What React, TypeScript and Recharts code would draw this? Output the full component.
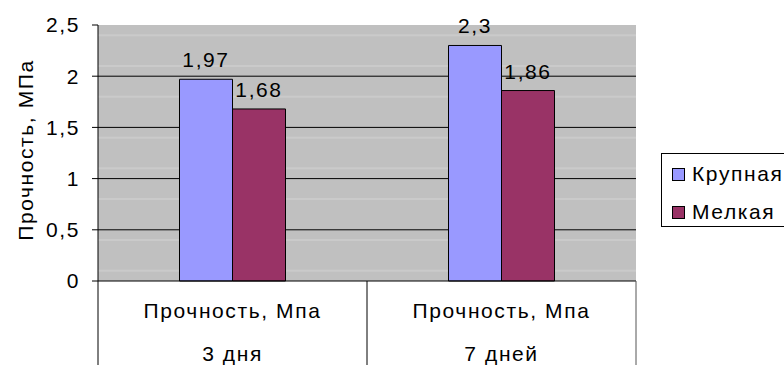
import { BarChart, Bar, XAxis, YAxis, CartesianGrid, Legend, LabelList } from "recharts";

const periods = ["3 дня", "7 дней"];
const measures = ["Прочность, Мпа", "Прочность, Мпа"];
const coarse = [1.97, 2.3];
const fine = [1.68, 1.86];
const yTicks = [0, 0.5, 1, 1.5, 2, 2.5];
const majorLines = [0.5, 1, 1.5, 2];
const minorLines = [
  0.1, 0.2, 0.3, 0.4, 0.6, 0.7, 0.8, 0.9, 1.1, 1.2, 1.3, 1.4,
  1.6, 1.7, 1.8, 1.9, 2.1, 2.2, 2.3, 2.4,
];

const data = periods.map((period, i) => ({
  period,
  measure: measures[i],
  coarse: coarse[i],
  fine: fine[i],
}));

const W = 784;
const H = 365;
const LEFT = 98;
const RIGHT = 148;
const TOP = 25;
const X_AXIS_H = 84;
const PLOT_W = W - LEFT - RIGHT;
const FONT = "'Liberation Sans', Arial, sans-serif";
const FS = 21;
const LS = 1.6;

const textStyle = { fill: "#000", fontSize: FS, fontFamily: FONT, letterSpacing: LS };

const comma = (v: number | string) => String(v).replace(".", ",");

const CategoryTick = (props: any) => {
  const { x, y, payload, index } = props;
  const half = PLOT_W / periods.length / 2;
  const last = index === periods.length - 1;
  return (
    <g>
      <line x1={x - half} y1={y} x2={x - half} y2={H} stroke="#000" />
      {last && <line x1={x + half} y1={y} x2={x + half} y2={H} stroke="#555" />}
      <text x={x} y={y + 37} textAnchor="middle" style={textStyle}>
        {measures[index]}
      </text>
      <text x={x} y={y + 80} textAnchor="middle" style={textStyle}>
        {payload.value}
      </text>
    </g>
  );
};

const LegendBox = (props: any) => {
  const { payload } = props;
  return (
    <div
      style={{
        border: "1px solid #000",
        background: "#fff",
        width: 130,
        height: 74,
        boxSizing: "border-box",
        paddingTop: 1,
        paddingLeft: 10,
        fontFamily: FONT,
        fontSize: FS,
        letterSpacing: LS,
      }}
    >
      {payload.map((item: any) => (
        <div key={item.value} style={{ display: "flex", alignItems: "center", height: 38 }}>
          <span
            style={{
              width: 11,
              height: 11,
              background: item.color,
              border: "1px solid #000",
              marginRight: 7,
              flexShrink: 0,
            }}
          />
          <span>{item.value}</span>
        </div>
      ))}
    </div>
  );
};

const YTitle = () => (
  <text
    x={0}
    y={0}
    transform={`translate(33, 150) rotate(-90)`}
    textAnchor="middle"
    style={textStyle}
  >
    Прочность, МПа
  </text>
);

export default function App() {
  return (
    <div style={{ position: "absolute", left: 0, top: 0, background: "#fff" }}>
      <BarChart
        width={W}
        height={H}
        data={data}
        margin={{ top: TOP, right: RIGHT, left: 0, bottom: 0 }}
        barCategoryGap="30.3%"
        barGap={0}
      >
        <CartesianGrid
          vertical={false}
          horizontalValues={minorLines}
          stroke="#cacaca"
          strokeWidth={2}
          fill="#c0c0c0"
          fillOpacity={1}
        />
        <CartesianGrid vertical={false} horizontalValues={majorLines} stroke="#000" />
        <XAxis
          xAxisId="top"
          orientation="top"
          dataKey="period"
          height={0}
          tick={false}
          tickLine={false}
          axisLine={{ stroke: "#808080" }}
        />
        <YAxis
          yAxisId="right"
          orientation="right"
          width={0}
          tick={false}
          tickLine={false}
          axisLine={{ stroke: "#808080" }}
        />
        <XAxis
          dataKey="period"
          height={X_AXIS_H}
          tickSize={0}
          tickMargin={0}
          tick={<CategoryTick />}
          axisLine={{ stroke: "#000" }}
          interval={0}
        />
        <YAxis
          domain={[0, 2.5]}
          ticks={yTicks}
          tickFormatter={comma}
          width={LEFT}
          tickSize={6}
          tickMargin={12}
          tick={textStyle}
          tickLine={{ stroke: "#000" }}
          axisLine={{ stroke: "#000" }}
          label={<YTitle />}
        />
        <Legend
          layout="vertical"
          align="center"
          verticalAlign="middle"
          content={<LegendBox />}
          wrapperStyle={{ position: "absolute", left: 661, top: 153, width: 130 }}
        />
        <Bar dataKey="coarse" name="Крупная" fill="#9999ff" stroke="#000" strokeWidth={1} isAnimationActive={false}>
          <LabelList dataKey="coarse" position="top" offset={12} formatter={comma} style={textStyle} />
        </Bar>
        <Bar dataKey="fine" name="Мелкая" fill="#993366" stroke="#000" strokeWidth={1} isAnimationActive={false}>
          <LabelList dataKey="fine" position="top" offset={12} formatter={comma} style={textStyle} />
        </Bar>
      </BarChart>
    </div>
  );
}
